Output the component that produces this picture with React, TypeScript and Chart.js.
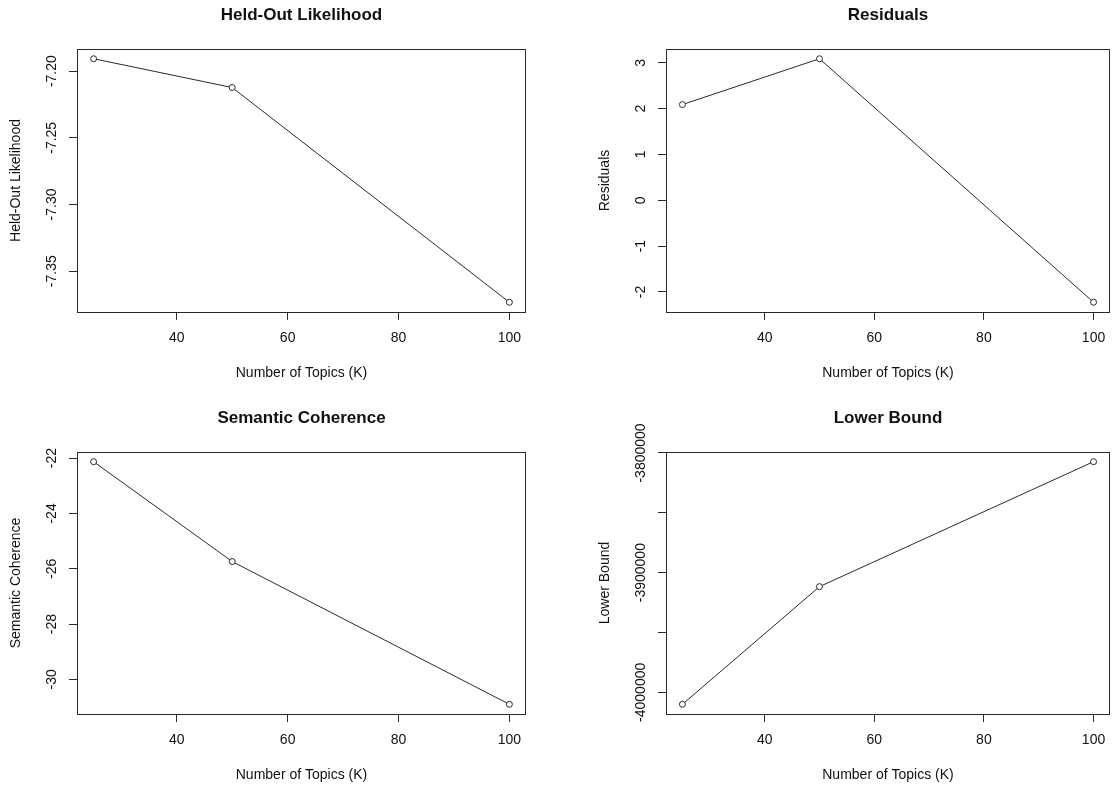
import React, { useEffect, useRef } from 'react';
import { Chart, registerables } from 'chart.js';

Chart.register(...registerables);

const FONT = '"Liberation Sans", Arial, Helvetica, sans-serif';
const TEXT = '#111111';
const INK = '#2a2a2a';
const LABEL_SIZE = 14;
const TITLE_SIZE = 17;
const TICK_LEN = 8;

// ---- data ----
const topics = [25, 50, 100];
const heldOut = [-7.1907, -7.2123, -7.3733];
const residuals = [2.088, 3.088, -2.225];
const semanticCoherence = [-22.13, -25.74, -30.9];
const lowerBound = [-4010000, -3911700, -3807300];

const xTicks = [40, 60, 80, 100];
const xTickLabels = ['40', '60', '80', '100'];

const heldTicks = [-7.35, -7.3, -7.25, -7.2];
const heldTickLabels = ['-7.35', '-7.30', '-7.25', '-7.20'];
const residTicks = [-2, -1, 0, 1, 2, 3];
const residTickLabels = ['-2', '-1', '0', '1', '2', '3'];
const semTicks = [-30, -28, -26, -24, -22];
const semTickLabels = ['-30', '-28', '-26', '-24', '-22'];
const boundTicks = [-4000000, -3950000, -3900000, -3850000, -3800000];
const boundTickLabels = ['-4000000', '', '-3900000', '', '-3800000'];

const xTitle = 'Number of Topics (K)';

// ---- layout of the four panels (canvas position/size and plot box inside) ----
const panels = [
  { left: 0, top: 0, width: 557, height: 395, areaL: 77, areaT: 49, areaR: 526, areaB: 312, titleY: 15.7 },
  { left: 589, top: 0, width: 526, height: 395, areaL: 77, areaT: 49, areaR: 525, areaB: 312, titleY: 15.7 },
  { left: 0, top: 402, width: 557, height: 389, areaL: 77, areaT: 50, areaR: 526, areaB: 312, titleY: 16.8 },
  { left: 589, top: 402, width: 526, height: 389, areaL: 77, areaT: 50, areaR: 525, areaB: 312, titleY: 16.8 },
];

const rLimits = (arr: number[]) => {
  const mn = Math.min(...arr);
  const mx = Math.max(...arr);
  const r = mx - mn;
  return [mn - 0.04 * r, mx + 0.04 * r];
};

const boxPlugin = {
  id: 'rbox',
  afterDraw(chart: any) {
    const { ctx, chartArea: a } = chart;
    ctx.save();
    ctx.strokeStyle = INK;
    ctx.lineWidth = 1;
    const l = Math.round(a.left) + 0.5;
    const t = Math.round(a.top) + 0.5;
    const r = Math.round(a.right) - 0.5;
    const b = Math.round(a.bottom) + 0.5;
    ctx.strokeRect(l, t, r - l, b - t);
    ctx.restore();
  },
};

type PanelProps = {
  title: string;
  yTitle: string;
  values: number[];
  yTicks: number[];
  yLabels: string[];
  box: typeof panels[number];
};

function Panel({ title, yTitle, values, yTicks, yLabels, box }: PanelProps) {
  const ref = useRef<HTMLCanvasElement | null>(null);

  useEffect(() => {
    if (!ref.current) return;
    const [xmin, xmax] = rLimits(topics);
    const [ymin, ymax] = rLimits(values);

    const m = document.createElement('canvas').getContext('2d')!;
    m.font = `${LABEL_SIZE}px ${FONT}`;
    const widest = Math.max(...yLabels.map((l) => m.measureText(l).width));

    const yLabelCenterOffset = 25; // distance from box edge to label centre
    const yTickPad = yLabelCenterOffset - TICK_LEN - widest / 2;
    const lh = LABEL_SIZE * 1.2;
    const xTickPad = 26 - TICK_LEN - lh / 2;
    const xTitleCenter = box.areaB + 61.5;
    const xTitlePadBottom = box.height - xTitleCenter - lh / 2;
    const yTitlePadTop = 16.5 - lh / 2;
    const tlh = TITLE_SIZE * 1.2;
    const titlePadTop = box.titleY - tlh / 2;
    const titlePadBottom = box.areaT - titlePadTop - tlh;

    const chart = new Chart(ref.current, {
      type: 'line',
      data: {
        datasets: [
          {
            data: topics.map((k, i) => ({ x: k, y: values[i] })),
            borderColor: INK,
            borderWidth: 1,
            tension: 0,
            fill: false,
            pointRadius: 3,
            pointBorderWidth: 1,
            pointBorderColor: INK,
            pointBackgroundColor: '#ffffff',
          },
        ],
      },
      options: {
        animation: false,
        responsive: false,
        events: [],
        layout: { padding: { left: 0, top: 0, right: box.width - box.areaR, bottom: 0 } },
        plugins: {
          legend: { display: false },
          tooltip: { enabled: false },
          title: {
            display: true,
            text: title,
            fullSize: false,
            color: TEXT,
            font: { family: FONT, size: TITLE_SIZE, weight: 'bold' },
            padding: { top: titlePadTop, bottom: titlePadBottom },
          },
        },
        scales: {
          x: {
            type: 'linear',
            min: xmin,
            max: xmax,
            afterBuildTicks: (s: any) => {
              s.ticks = xTicks.map((v) => ({ value: v }));
            },
            afterFit: (s: any) => {
              s.height = box.height - box.areaB;
            },
            ticks: {
              autoSkip: false,
              maxRotation: 0,
              minRotation: 0,
              padding: xTickPad,
              color: TEXT,
              font: { family: FONT, size: LABEL_SIZE },
              callback: (_v: any, i: number) => xTickLabels[i],
            },
            grid: { drawOnChartArea: false, drawTicks: true, tickLength: TICK_LEN, color: INK, lineWidth: 1 },
            border: { display: false },
            title: {
              display: true,
              text: xTitle,
              color: TEXT,
              font: { family: FONT, size: LABEL_SIZE },
              padding: { top: 0, bottom: xTitlePadBottom },
            },
          },
          y: {
            type: 'linear',
            min: ymin,
            max: ymax,
            afterBuildTicks: (s: any) => {
              s.ticks = yTicks.map((v) => ({ value: v }));
            },
            afterFit: (s: any) => {
              s.width = box.areaL;
            },
            ticks: {
              autoSkip: false,
              minRotation: 90,
              maxRotation: 90,
              crossAlign: 'center',
              padding: yTickPad,
              color: TEXT,
              font: { family: FONT, size: LABEL_SIZE },
              callback: (_v: any, i: number) => yLabels[i],
            },
            grid: { drawOnChartArea: false, drawTicks: true, tickLength: TICK_LEN, color: INK, lineWidth: 1 },
            border: { display: false },
            title: {
              display: true,
              text: yTitle,
              color: TEXT,
              font: { family: FONT, size: LABEL_SIZE },
              padding: { top: yTitlePadTop, bottom: 0 },
            },
          },
        },
      },
      plugins: [boxPlugin],
    } as any);
    return () => chart.destroy();
  }, []);

  return (
    <canvas
      ref={ref}
      width={box.width}
      height={box.height}
      style={{ position: 'absolute', left: box.left, top: box.top, width: box.width, height: box.height }}
    />
  );
}

export default function App() {
  return (
    <div style={{ position: 'absolute', left: 0, top: 0, width: 1115, height: 791, background: '#ffffff', overflow: 'hidden' }}>
      <Panel title="Held-Out Likelihood" yTitle="Held-Out Likelihood" values={heldOut} yTicks={heldTicks} yLabels={heldTickLabels} box={panels[0]} />
      <Panel title="Residuals" yTitle="Residuals" values={residuals} yTicks={residTicks} yLabels={residTickLabels} box={panels[1]} />
      <Panel title="Semantic Coherence" yTitle="Semantic Coherence" values={semanticCoherence} yTicks={semTicks} yLabels={semTickLabels} box={panels[2]} />
      <Panel title="Lower Bound" yTitle="Lower Bound" values={lowerBound} yTicks={boundTicks} yLabels={boundTickLabels} box={panels[3]} />
    </div>
  );
}
